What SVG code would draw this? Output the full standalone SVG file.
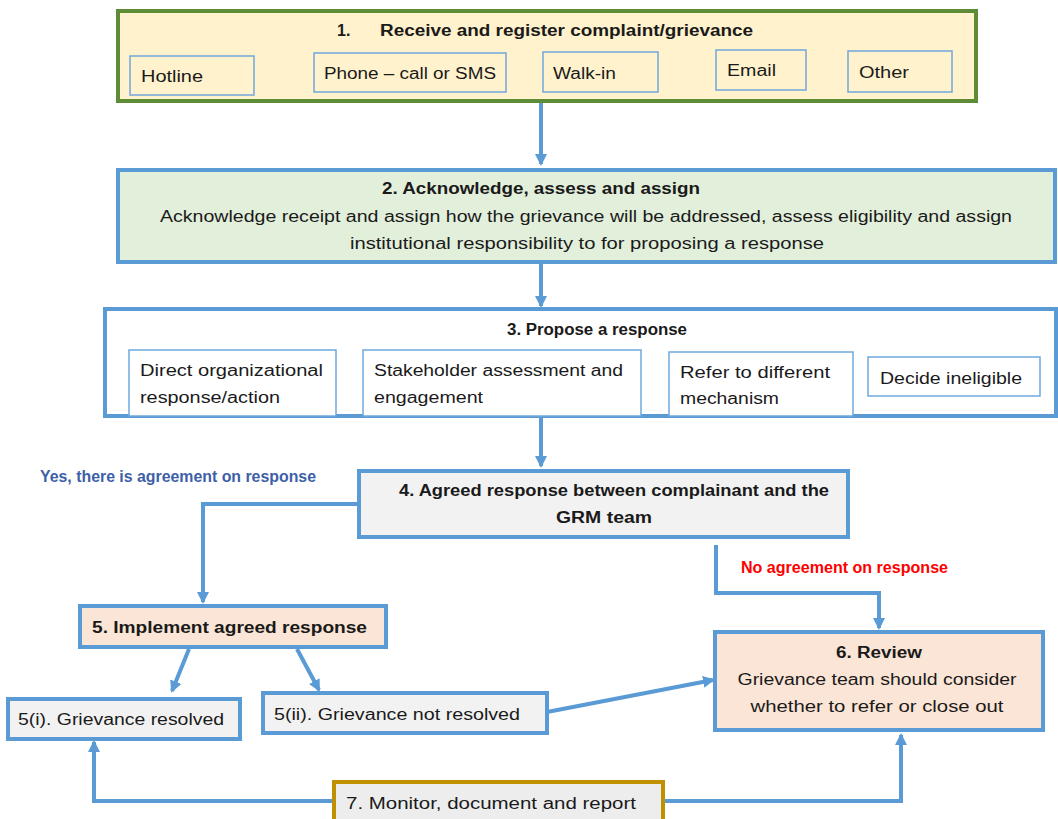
<svg xmlns="http://www.w3.org/2000/svg" width="1058" height="819" viewBox="0 0 1058 819">
<defs>
<marker id="ah" viewBox="0 0 12 12" refX="10" refY="6" markerWidth="12" markerHeight="12" markerUnits="userSpaceOnUse" orient="auto">
<path d="M0,0 L12,6 L0,12 z" fill="#5B9BD5"/>
</marker>
<style>
text{font-family:"Liberation Sans",Arial,sans-serif;fill:#1a1a1a;font-size:16px}
.b{font-weight:bold}
.main{stroke:#5B9BD5;stroke-width:4}
.sub{stroke:#6FA8DC;stroke-width:1.5}
.conn{fill:none;stroke:#5B9BD5;stroke-width:4;marker-end:url(#ah)}
.c{text-anchor:middle}
</style>
</defs>
<rect width="1058" height="819" fill="#ffffff"/>

<g id="connectors">
<path class="conn" d="M541,101 V164"/>
<path class="conn" d="M541,262 V306"/>
<path class="conn" d="M541,416 V466"/>
<path class="conn" d="M358,504 H203 V602"/>
<path class="conn" d="M716,545 V593 H879 V628"/>
<path class="conn" d="M189,649 L172,691"/>
<path class="conn" d="M297,649 L319,690"/>
<path class="conn" d="M547,712 L713,680"/>
<path class="conn" d="M334,801 H94 V742"/>
<path class="conn" d="M663,801 H901 V735"/>
</g>

<g id="node1">
<rect x="118" y="11" width="858" height="90" fill="#FFF2CC" stroke="#5E8B36" stroke-width="4"/>
<text class="b" x="337" y="36" font-size="16.5">1.</text>
<text class="b" x="380" y="36" font-size="16.5" textLength="373" lengthAdjust="spacingAndGlyphs">Receive and register complaint/grievance</text>
<g id="node1-hotline"><rect class="sub" x="130" y="56" width="124" height="39" fill="#FFF2CC"/><text x="141" y="82" font-size="17" textLength="62" lengthAdjust="spacingAndGlyphs">Hotline</text></g>
<g id="node1-phone"><rect class="sub" x="314" y="53" width="192" height="39" fill="#FFF2CC"/><text x="324" y="79" font-size="17" textLength="172" lengthAdjust="spacingAndGlyphs">Phone  – call or SMS</text></g>
<g id="node1-walkin"><rect class="sub" x="543" y="52" width="115" height="40" fill="#FFF2CC"/><text x="553" y="79" font-size="17" textLength="63" lengthAdjust="spacingAndGlyphs">Walk-in</text></g>
<g id="node1-email"><rect class="sub" x="716" y="50" width="90" height="40" fill="#FFF2CC"/><text x="727" y="76" font-size="17" textLength="49" lengthAdjust="spacingAndGlyphs">Email</text></g>
<g id="node1-other"><rect class="sub" x="848" y="51" width="104" height="41" fill="#FFF2CC"/><text x="859" y="78" font-size="17" textLength="50" lengthAdjust="spacingAndGlyphs">Other</text></g>
</g>

<g id="node2">
<rect class="main" x="118" y="170" width="937" height="92" fill="#E2EFDA"/>
<text class="b c" x="541" y="194" font-size="16.5" textLength="318" lengthAdjust="spacingAndGlyphs">2. Acknowledge, assess and assign</text>
<text class="c" x="586" y="222" textLength="852" lengthAdjust="spacingAndGlyphs">Acknowledge receipt and assign how the grievance will be addressed, assess eligibility and assign</text>
<text class="c" x="587" y="249" textLength="474" lengthAdjust="spacingAndGlyphs">institutional responsibility  to for proposing  a response</text>
</g>

<g id="node3">
<rect class="main" x="105" y="309" width="951" height="107" fill="#ffffff"/>
<text class="b c" x="597" y="335" font-size="16.5" textLength="180" lengthAdjust="spacingAndGlyphs">3. Propose a response</text>
<g id="node3-direct"><rect class="sub" x="129" y="350" width="207" height="66" fill="#fff"/><text x="140" y="376" textLength="183" lengthAdjust="spacingAndGlyphs">Direct organizational</text><text x="140" y="403" textLength="140" lengthAdjust="spacingAndGlyphs">response/action</text></g>
<g id="node3-stake"><rect class="sub" x="363" y="350" width="278" height="66" fill="#fff"/><text x="374" y="376" textLength="249" lengthAdjust="spacingAndGlyphs">Stakeholder  assessment  and</text><text x="374" y="403" textLength="109" lengthAdjust="spacingAndGlyphs">engagement</text></g>
<g id="node3-refer"><rect class="sub" x="669" y="352" width="184" height="64" fill="#fff"/><text x="680" y="378" textLength="150" lengthAdjust="spacingAndGlyphs">Refer to different</text><text x="680" y="404" textLength="99" lengthAdjust="spacingAndGlyphs">mechanism</text></g>
<g id="node3-inel"><rect class="sub" x="868" y="357" width="172" height="39" fill="#fff"/><text x="880" y="384" textLength="142" lengthAdjust="spacingAndGlyphs">Decide ineligible</text></g>
</g>

<g id="label-yes">
<text class="b" x="40" y="482" font-size="14" style="fill:#3E5FA8" textLength="276" lengthAdjust="spacingAndGlyphs">Yes, there is agreement on response</text>
</g>

<g id="node4">
<rect class="main" x="359" y="471" width="489" height="66" fill="#F2F2F2"/>
<text class="b" x="399" y="496" font-size="17" textLength="430" lengthAdjust="spacingAndGlyphs">4. Agreed response between complainant and the</text>
<text class="b c" x="604" y="523" font-size="17" textLength="96" lengthAdjust="spacingAndGlyphs">GRM team</text>
</g>

<g id="label-no">
<text class="b" x="741" y="573" font-size="14" style="fill:#FF0000" textLength="207" lengthAdjust="spacingAndGlyphs">No agreement on response</text>
</g>

<g id="node5">
<rect class="main" x="80" y="606" width="306" height="41" fill="#FBE5D6"/>
<text class="b" x="92" y="633" font-size="17" textLength="275" lengthAdjust="spacingAndGlyphs">5. Implement agreed response</text>
</g>

<g id="node5i">
<rect class="main" x="8" y="699" width="232" height="40" fill="#F2F2F2"/>
<text x="18" y="725" font-size="17" textLength="206" lengthAdjust="spacingAndGlyphs">5(i).  Grievance resolved</text>
</g>

<g id="node5ii">
<rect class="main" x="263" y="693" width="284" height="40" fill="#F2F2F2"/>
<text x="274" y="720" font-size="17" textLength="246" lengthAdjust="spacingAndGlyphs">5(ii).  Grievance not resolved</text>
</g>

<g id="node6">
<rect class="main" x="715" y="632" width="328" height="98" fill="#FBE5D6"/>
<text class="b c" x="879" y="658" font-size="17" textLength="86" lengthAdjust="spacingAndGlyphs">6. Review</text>
<text class="c" x="877" y="685" font-size="17" textLength="279" lengthAdjust="spacingAndGlyphs">Grievance team should  consider</text>
<text class="c" x="877" y="712" font-size="17" textLength="253" lengthAdjust="spacingAndGlyphs">whether to refer or close  out</text>
</g>

<g id="node7">
<rect x="334" y="782" width="329" height="45" fill="#EDEDED" stroke="#BF9000" stroke-width="4"/>
<text x="346" y="809" font-size="17" textLength="290" lengthAdjust="spacingAndGlyphs">7. Monitor, document and report</text>
</g>
</svg>
